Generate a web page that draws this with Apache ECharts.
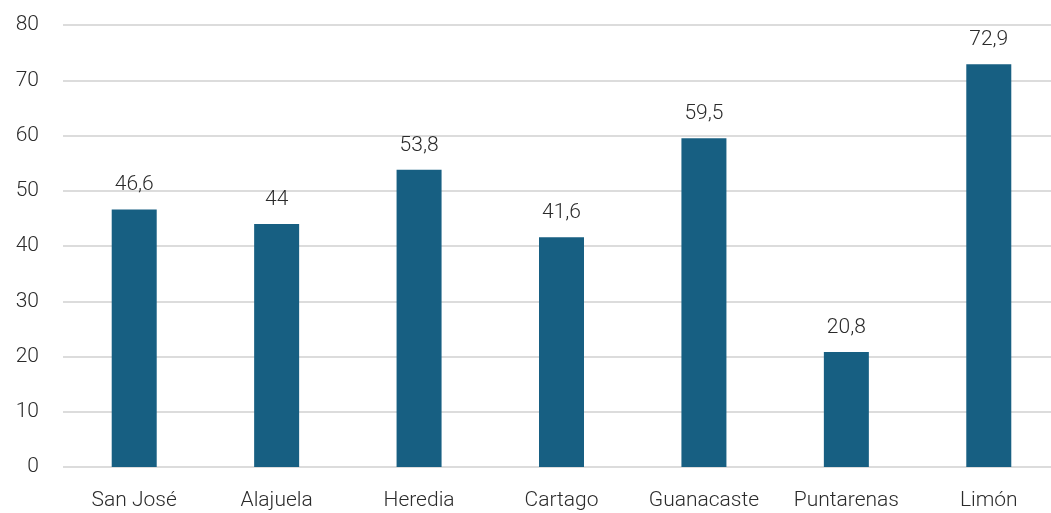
<!DOCTYPE html>
<html>
<head>
<meta charset="utf-8">
<script src="https://cdn.jsdelivr.net/npm/echarts@6/dist/echarts.min.js"></script>
<style>
  html, body { margin: 0; padding: 0; background: #fff; }
  #chart { width: 1051px; height: 513px; }
</style>
</head>
<body>
<div id="chart"></div>
<script>
// provincias
var provincias = ['San José', 'Alajuela', 'Heredia', 'Cartago', 'Guanacaste', 'Puntarenas', 'Limón'];
var valores = [46.6, 44, 53.8, 41.6, 59.5, 20.8, 72.9];

var fuente = 'Roboto, "Noto Sans", sans-serif';

var chart = echarts.init(document.getElementById('chart'));

chart.setOption({
  animation: false,
  grid: {
    left: 63,
    right: -9,
    top: 25,
    bottom: 46,
    outerBoundsMode: 'none'
  },
  xAxis: {
    type: 'category',
    data: provincias,
    axisLine: { show: false },
    axisTick: { show: false },
    axisLabel: {
      color: '#2b2b2b',
      fontSize: 21,
      fontWeight: 300,
      fontFamily: fuente,
      margin: 23,
      interval: 0
    }
  },
  yAxis: {
    type: 'value',
    min: 0,
    max: 80,
    interval: 10,
    axisLine: { show: false },
    axisTick: { show: false },
    axisLabel: {
      color: '#2b2b2b',
      fontSize: 21,
      fontWeight: 300,
      fontFamily: fuente,
      margin: 24
    },
    splitLine: {
      lineStyle: { color: '#dcdcdc', width: 2 }
    }
  },
  series: [{
    type: 'bar',
    data: valores,
    barWidth: 45,
    itemStyle: { color: '#175f82' },
    label: {
      show: true,
      position: 'top',
      distance: 14,
      color: '#2b2b2b',
      fontSize: 21,
      fontWeight: 300,
      fontFamily: fuente,
      formatter: function (p) {
        return String(p.value).replace('.', ',');
      }
    }
  }]
});
</script>
</body>
</html>
